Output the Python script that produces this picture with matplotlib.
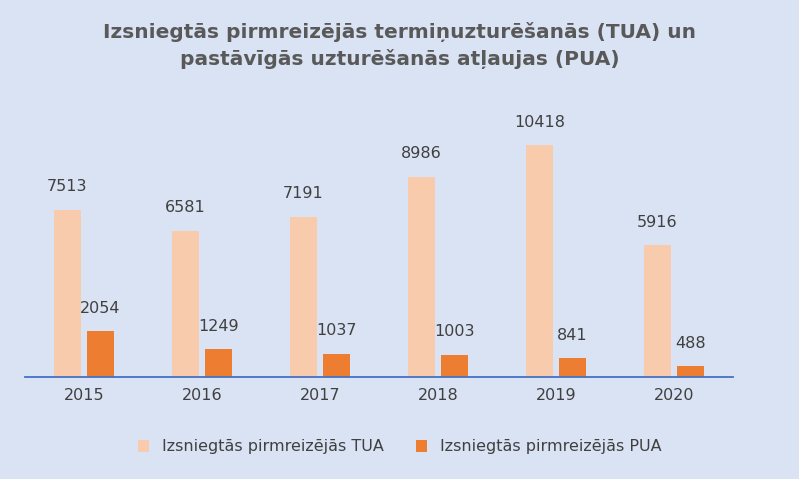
import numpy as np
import matplotlib.pyplot as plt

years = ['2015', '2016', '2017', '2018', '2019', '2020']
tua = [7513, 6581, 7191, 8986, 10418, 5916]
pua = [2054, 1249, 1037, 1003, 841, 488]

bg = '#dae3f3'
fig = plt.figure(figsize=(7.99, 4.79), dpi=100, facecolor=bg)
ax = fig.add_axes([25 / 799, 102 / 479, 708 / 799, 267 / 479], facecolor=bg)

x = np.arange(len(years))
w = 0.23
b1 = ax.bar(x - 0.14, tua, w, color='#f8cbad', label='Izsniegtās pirmreizējās TUA')
b2 = ax.bar(x + 0.14, pua, w, color='#ed7d31', label='Izsniegtās pirmreizējās PUA')
for bars in (b1, b2):
    for r in bars:
        ax.text(r.get_x() + r.get_width() / 2, r.get_height() + 700, str(int(r.get_height())),
                ha='center', va='bottom', fontsize=11.5, color='#404040')

ax.set_xlim(-0.5, len(years) - 0.5)
ax.set_ylim(0, 12000)
ax.set_yticks([])
ax.set_xticks(x, years, fontsize=11.5, color='#404040')
ax.tick_params(axis='x', length=0, pad=8)
for s in ('top', 'right', 'left'):
    ax.spines[s].set_visible(False)
ax.spines['bottom'].set_color('#4472c4')
ax.spines['bottom'].set_linewidth(1.3)

fig.text(0.5, 0.905, 'Izsniegtās pirmreizējās termiņuzturēšanās (TUA) un\npastāvīgās uzturēšanās atļaujas (PUA)',
         ha='center', va='center', fontsize=14.5, fontweight='bold', color='#595959', linespacing=1.4)
fig.legend(loc='center', bbox_to_anchor=(0.5, 447 / 479 * -1 + 1), ncol=2, frameon=False,
           fontsize=11.5, labelcolor='#404040', handlelength=0.7, handleheight=0.7, columnspacing=2)

fig.savefig('out.png', dpi=100, facecolor=bg)
